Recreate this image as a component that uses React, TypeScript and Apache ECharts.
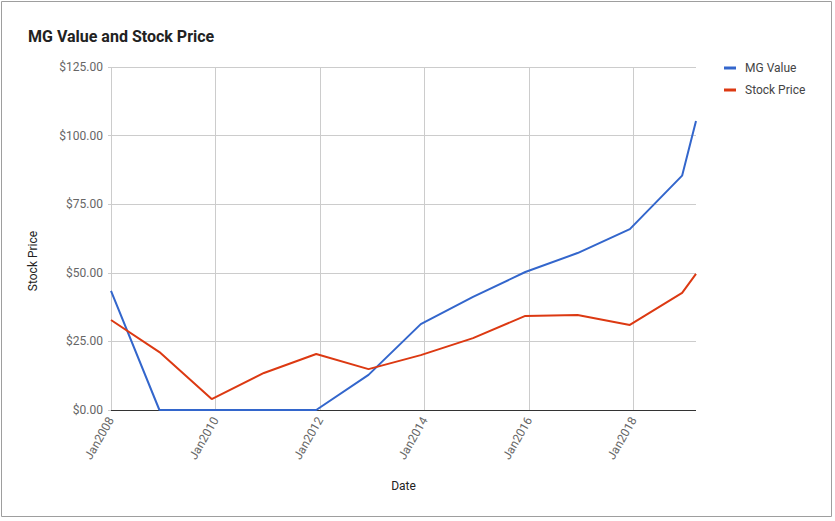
import React, { useEffect, useRef } from "react";
import * as echarts from "echarts";

const dates = [
  "2008-01-01", "2008-12-05", "2009-12-05", "2010-12-05", "2011-12-05",
  "2012-12-05", "2013-12-05", "2014-12-05", "2015-12-05", "2016-12-05",
  "2017-12-05", "2018-12-05", "2019-03-12",
];
const mgValue = [43.4, 0, 0, 0, 0, 12.8, 31.3, 41.2, 50.3, 57.2, 65.9, 85.4, 105.3];
const stockPrice = [32.8, 21.1, 4.0, 13.5, 20.4, 14.9, 20.0, 26.2, 34.3, 34.6, 31.0, 42.7, 49.6];
const seriesNames = ["MG Value", "Stock Price"];
const yTicks = { min: 0, max: 125, interval: 25 };
const xTickYears = [2008, 2010, 2012, 2014, 2016, 2018];

function toYearFraction(s: string): number {
  const [y, m, d] = s.split("-").map(Number);
  const start = Date.UTC(y, 0, 1);
  const end = Date.UTC(y + 1, 0, 1);
  return y + (Date.UTC(y, m - 1, d) - start) / (end - start);
}

export default function App() {
  const ref = useRef<HTMLDivElement>(null);
  useEffect(() => {
    document.body.style.margin = "0";
    const chart = echarts.init(ref.current!, null, { renderer: "svg" });
    const xs = dates.map(toYearFraction);
    const font = "Roboto, Arial, sans-serif";
    chart.setOption({
      animation: false,
      backgroundColor: "#fff",
      textStyle: { fontFamily: font },
      title: {
        text: "MG Value and Stock Price",
        left: 28,
        top: 28,
        padding: 0,
        textStyle: { fontSize: 16, fontWeight: "bold", color: "#222", fontFamily: font },
      },
      legend: {
        orient: "vertical",
        left: 724,
        top: 62,
        padding: 0,
        itemGap: 10,
        itemWidth: 12,
        itemHeight: 3,
        icon: "rect",
        data: seriesNames,
        textStyle: { fontSize: 12, color: "#444", fontFamily: font, padding: [0, 0, 0, 4] },
      },
      graphic: [
        {
          type: "rect",
          shape: { x: 1.5, y: 1.5, width: 830, height: 515 },
          style: { fill: "none", stroke: "#9e9e9e", lineWidth: 1 },
          silent: true,
        },
        {
          type: "text",
          x: 33,
          y: 261,
          rotation: Math.PI / 2,
          style: {
            text: "Stock Price",
            fontSize: 12,
            fill: "#222",
            fontFamily: font,
            align: "center",
            verticalAlign: "middle",
          },
          silent: true,
        },
      ],
      grid: { left: 111, right: 139, top: 67, bottom: 111 },
      xAxis: {
        type: "value",
        min: xs[0],
        max: xs[xs.length - 1],
        name: "Date",
        nameLocation: "middle",
        nameGap: 70,
        nameTextStyle: { fontSize: 12, color: "#222", fontFamily: font },
        axisLine: { show: false },
        axisTick: { show: false, customValues: xTickYears },
        axisLabel: {
          rotate: 60,
          fontSize: 12,
          color: "#666",
          fontFamily: font,
          margin: 8,
          formatter: (v: number) => "Jan" + Math.round(v),
          customValues: xTickYears,
        },
        splitLine: { show: true, lineStyle: { color: "#ccc", width: 1 } },
      },
      yAxis: {
        type: "value",
        min: yTicks.min,
        max: yTicks.max,
        interval: yTicks.interval,
        axisLine: { show: false },
        axisTick: { show: true, length: 3, lineStyle: { color: "#ccc" } },
        axisLabel: {
          fontSize: 12,
          color: "#666",
          fontFamily: font,
          margin: 8,
          formatter: (v: number) => "$" + v.toFixed(2),
        },
        splitLine: { show: true, lineStyle: { color: "#ccc", width: 1 } },
      },
      series: [
        {
          name: seriesNames[0],
          type: "line",
          data: xs.map((x, i) => [x, mgValue[i]]),
          showSymbol: false,
          symbol: "none",
          lineStyle: { color: "#3366cc", width: 2 },
          itemStyle: { color: "#3366cc" },
          z: 3,
          markLine: {
            silent: true,
            symbol: "none",
            label: { show: false },
            lineStyle: { color: "#333", width: 1, type: "solid" },
            data: [{ yAxis: 0 }],
            z: 2,
          },
        },
        {
          name: seriesNames[1],
          type: "line",
          data: xs.map((x, i) => [x, stockPrice[i]]),
          showSymbol: false,
          symbol: "none",
          lineStyle: { color: "#dc3912", width: 2 },
          itemStyle: { color: "#dc3912" },
          z: 4,
        },
      ],
    });
    return () => chart.dispose();
  }, []);
  return <div ref={ref} style={{ width: 835, height: 521 }} />;
}
